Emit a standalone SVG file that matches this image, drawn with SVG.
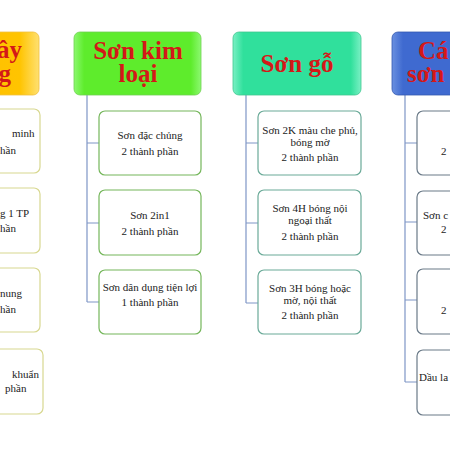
<svg xmlns="http://www.w3.org/2000/svg" width="450" height="450" viewBox="0 0 450 450">
<defs>
<linearGradient id="gY" x1="0" y1="0" x2="1" y2="0"><stop offset="0" stop-color="#ffb800"/><stop offset="0.85" stop-color="#ffc400"/><stop offset="1" stop-color="#ffe070"/></linearGradient>
<linearGradient id="gG" x1="0" y1="0" x2="1" y2="0"><stop offset="0" stop-color="#8cf870"/><stop offset="0.08" stop-color="#5eec2c"/><stop offset="0.92" stop-color="#5eec2c"/><stop offset="1" stop-color="#8cf870"/></linearGradient>
<linearGradient id="gT" x1="0" y1="0" x2="1" y2="0"><stop offset="0" stop-color="#7af0c4"/><stop offset="0.08" stop-color="#30e09c"/><stop offset="0.92" stop-color="#30e09c"/><stop offset="1" stop-color="#7af0c4"/></linearGradient>
<linearGradient id="gB" x1="0" y1="0" x2="1" y2="0"><stop offset="0" stop-color="#6a90e0"/><stop offset="0.1" stop-color="#3f6ad0"/><stop offset="1" stop-color="#3f6ad0"/></linearGradient>
</defs>
<style>
.hd{font-family:"Liberation Serif","Times New Roman",serif;font-weight:bold;font-size:25px;fill:#d41818;}
.t{font-family:"Liberation Serif","Times New Roman",serif;font-size:11px;fill:#222;text-anchor:middle;}
.tl{font-family:"Liberation Serif","Times New Roman",serif;font-size:11px;fill:#222;}
.bY{fill:#fff;stroke:#d8d890;stroke-width:1.2;}
.bG{fill:#fff;stroke:#74b65a;stroke-width:1.2;}
.bT{fill:#fff;stroke:#6aaa98;stroke-width:1.2;}
.bB{fill:#fff;stroke:#6a7a88;stroke-width:1.2;}
.ln{fill:none;stroke:#7f96c6;stroke-width:1.2;}
</style>
<rect width="450" height="450" fill="#fff"/>
<g id="connectors">
<path class="ln" d="M87,95 V302 M87,143 H99 M87,223 H99 M87,302 H99"/>
<path class="ln" d="M246,95 V303 M246,143 H258 M246,223 H258 M246,303 H258"/>
<path class="ln" d="M405,95 V382 M405,143 H417 M405,222 H417 M405,300 H417 M405,382 H417"/>
</g>
<g id="h-xaydung">
<rect x="-90" y="32" width="129" height="63" rx="6" fill="url(#gY)" stroke="#f0c040" stroke-width="0.8"/>
<text class="hd" x="22" y="58" text-anchor="end">ây</text>
<text class="hd" x="11" y="82" text-anchor="end">g</text>
</g>
<g id="h-kimloai">
<rect x="74" y="32" width="127" height="63" rx="6" fill="url(#gG)" stroke="#70d050" stroke-width="0.8"/>
<text class="hd" x="138" y="59" text-anchor="middle">Sơn kim</text>
<text class="hd" x="138" y="82" text-anchor="middle">loại</text>
</g>
<g id="h-go">
<rect x="233" y="32" width="128" height="63" rx="6" fill="url(#gT)" stroke="#40c890" stroke-width="0.8"/>
<text class="hd" x="297" y="72" text-anchor="middle">Sơn gỗ</text>
</g>
<g id="h-khac">
<rect x="392" y="32" width="110" height="63" rx="6" fill="url(#gB)" stroke="#3358b0" stroke-width="0.8"/>
<text class="hd" x="418" y="59">Cá</text>
<text class="hd" x="407" y="82">sơn</text>
</g>
<g id="y1"><rect class="bY" x="-70" y="109" width="110" height="64" rx="6"/><text class="tl" x="12" y="137">minh</text><text class="tl" x="0" y="154">hần</text></g>
<g id="y2"><rect class="bY" x="-70" y="188" width="110" height="65" rx="6"/><text class="tl" x="0" y="217">g  1 TP</text><text class="tl" x="0" y="232">hần</text></g>
<g id="y3"><rect class="bY" x="-70" y="268" width="110" height="64" rx="6"/><text class="tl" x="0" y="297">nung</text><text class="tl" x="0" y="313">hần</text></g>
<g id="y4"><rect class="bY" x="-70" y="349" width="113" height="65" rx="6"/><text class="tl" x="12" y="378">khuẩn</text><text class="tl" x="5" y="392">phần</text></g>
<g id="k1"><rect class="bG" x="99" y="111" width="102" height="64" rx="6"/><text class="t" x="150" y="139">Sơn  đặc chủng</text><text class="t" x="150" y="155">2 thành  phần</text></g>
<g id="k2"><rect class="bG" x="99" y="190" width="102" height="65" rx="6"/><text class="t" x="150" y="219">Sơn  2in1</text><text class="t" x="150" y="235">2 thành  phần</text></g>
<g id="k3"><rect class="bG" x="99" y="270" width="102" height="64" rx="6"/><text class="t" x="150" y="291">Sơn  dân  dụng  tiện lợi</text><text class="t" x="150" y="306">1 thành  phần</text></g>
<g id="g1"><rect class="bT" x="258" y="111" width="103" height="64" rx="6"/><text class="t" x="310" y="134">Sơn  2K màu che phủ,</text><text class="t" x="310" y="146">bóng mờ</text><text class="t" x="310" y="161">2 thành  phần</text></g>
<g id="g2"><rect class="bT" x="258" y="190" width="103" height="65" rx="6"/><text class="t" x="310" y="212">Sơn  4H bóng nội</text><text class="t" x="310" y="224">ngoại  thất</text><text class="t" x="310" y="240">2 thành  phần</text></g>
<g id="g3"><rect class="bT" x="258" y="270" width="103" height="64" rx="6"/><text class="t" x="310" y="292">Sơn  3H bóng  hoặc</text><text class="t" x="310" y="304">mờ, nội thất</text><text class="t" x="310" y="319">2 thành  phần</text></g>
<g id="b1"><rect class="bB" x="417" y="111" width="90" height="64" rx="6"/><text class="tl" x="441" y="155">2</text></g>
<g id="b2"><rect class="bB" x="417" y="191" width="90" height="64" rx="6"/><text class="tl" x="423" y="219">Sơn  c</text><text class="tl" x="441" y="233">2</text></g>
<g id="b3"><rect class="bB" x="417" y="269" width="90" height="65" rx="6"/><text class="tl" x="441" y="314">2</text></g>
<g id="b4"><rect class="bB" x="417" y="350" width="90" height="65" rx="6"/><text class="tl" x="419" y="381">Dầu  la</text></g>
</svg>
